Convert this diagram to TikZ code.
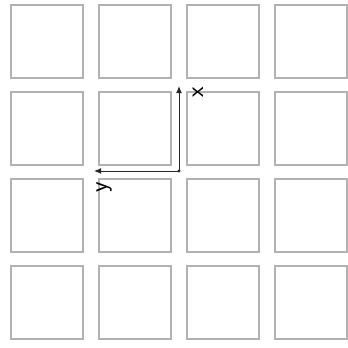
\documentclass[tikz,border=0pt]{standalone}
\usepackage{tikz}
\usetikzlibrary{
    arrows.meta,
    positioning
}

\begin{document}
\begin{tikzpicture}[
x=0.025cm, y=-0.025cm,
cell/.style={
draw=gray!60,
line width=1.1pt,
minimum width=1.8cm,
minimum height=1.83cm,
anchor=north west,
inner sep=0pt
},
axis/.style={
-{Latex[length=1.8mm,width=1.5mm]},
line width=0.7pt,
black!85
},
lbl/.style={
font=\sffamily\LARGE,
rotate=90,
inner sep=0pt
}
]
\useasboundingbox (0,0) rectangle (348,348);

% 4x4 grid
\foreach \i in {0,...,3} {
\foreach \j in {0,...,3} {
\node[cell] (c\i\j) at (10+88*\i, 4+87*\j) {};
}
}

% axes
\coordinate (o) at (179,171);
\coordinate (xtip) at (179,86);
\coordinate (ytip) at (94,171);

\fill[black!85] (o) circle (1.6);
\draw[axis] (o) -- (xtip);
\draw[axis] (o) -- (ytip);

\node[lbl] (xlbl) at (198,92) {x};
\node[lbl] (ylbl) at (104,187) {y};

\end{tikzpicture}
\end{document}
